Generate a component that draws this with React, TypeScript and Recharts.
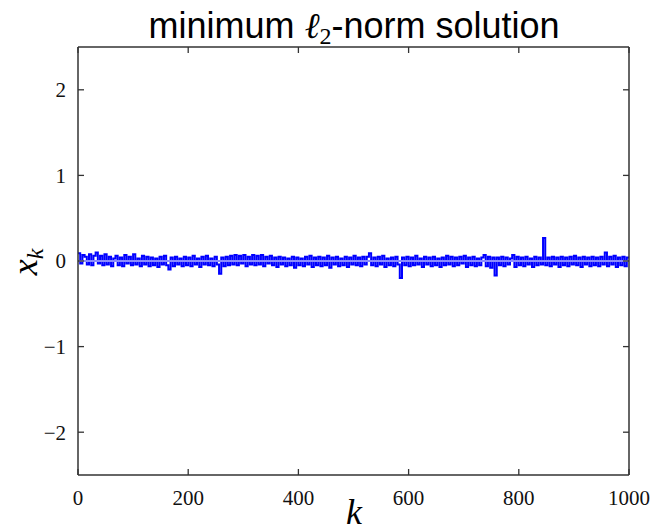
import { LineChart, Line, XAxis, YAxis, ReferenceLine } from "recharts"

// x_k values sampled every 4 indices (k = 0, 4, ..., 996), then k = 1000
const X_VALUES = [
  0.09, -0.03, 0.07, 0.05, -0.04, 0.08, -0.05, 0.06, 0.1, -0.03,
  0.06, -0.05, 0.08, -0.04, 0.05, -0.06, 0.03, 0.06, -0.05, 0.04,
  -0.06, 0.07, -0.03, 0.05, -0.05, 0.08, -0.04, 0.03, -0.06, 0.06,
  -0.04, 0.05, -0.06, 0.04, -0.05, 0.03, -0.07, 0.05, -0.04, 0.06,
  -0.05, -0.1, 0.04, -0.06, 0.05, -0.04, 0.03, -0.06, 0.05, -0.05,
  0.04, -0.06, 0.06, -0.04, 0.03, -0.07, 0.05, -0.04, 0.06, -0.05,
  0.03, -0.06, 0.05, -0.04, -0.15, 0.04, -0.06, 0.05, -0.05, 0.06,
  -0.04, 0.07, -0.05, 0.06, -0.03, 0.07, -0.06, 0.05, -0.04, 0.07,
  -0.05, 0.06, -0.04, 0.07, -0.06, 0.05, -0.03, 0.06, -0.05, 0.04,
  -0.07, 0.05, -0.04, 0.04, -0.06, 0.03, -0.05, 0.05, -0.08, 0.04,
  -0.05, 0.03, -0.06, 0.05, -0.04, 0.06, -0.07, 0.04, -0.05, 0.05,
  -0.06, 0.04, -0.05, 0.06, -0.08, 0.04, -0.04, 0.05, -0.06, 0.03,
  -0.05, 0.05, -0.07, 0.04, -0.04, 0.06, -0.05, 0.04, -0.06, 0.05,
  -0.04, 0.05, 0.09, -0.05, 0.04, -0.06, 0.05, -0.04, 0.06, -0.07,
  0.03, -0.05, 0.04, -0.06, 0.05, -0.04, -0.2, 0.04, -0.05, 0.05,
  -0.06, 0.04, -0.05, 0.06, -0.04, 0.03, -0.07, 0.05, -0.04, 0.04,
  -0.06, 0.05, -0.05, 0.03, -0.07, 0.04, -0.05, 0.06, -0.04, 0.05,
  -0.06, 0.04, -0.05, 0.05, -0.03, 0.06, -0.07, 0.04, -0.05, 0.05,
  -0.06, 0.03, -0.05, 0.04, 0.07, -0.06, 0.05, -0.08, 0.04, -0.17,
  0.04, -0.05, 0.05, -0.06, 0.04, -0.04, 0.03, 0.07, -0.07, 0.05,
  -0.05, 0.04, -0.06, 0.05, -0.04, 0.03, -0.07, 0.05, -0.05, 0.04,
  -0.04, 0.27, -0.05, 0.04, -0.06, 0.05, -0.04, 0.04, -0.07, 0.05,
  -0.05, 0.04, -0.06, 0.05, -0.04, 0.06, -0.05, 0.04, -0.07, 0.05,
  -0.04, 0.04, -0.06, 0.05, -0.05, 0.04, -0.06, 0.05, -0.04, 0.1,
  -0.06, 0.05, -0.04, 0.06, -0.07, 0.04, -0.05, 0.05, -0.06, 0.04,
  0.03,
]
const K_STEP = 4

const X_TICKS = [0, 200, 400, 600, 800, 1000]
const Y_TICKS = [-2, -1, 0, 1, 2]

const data = X_VALUES.map((x, i) => ({ k: i * K_STEP, x }))

const FRAME = "#333"
const TICK_LEN = 6
const fmt = (v: number) => (v < 0 ? "\u2212" + Math.abs(v) : String(v))

// matplotlib-style ticks pointing into the plot
const BottomTick = ({ x, y, payload }: any) => (
  <g>
    <line x1={x} x2={x} y1={y - 15} y2={y - 15 - TICK_LEN} stroke={FRAME} strokeWidth={1.3} />
    <text x={x} y={y} dy="0.71em" textAnchor="middle" fontFamily="Liberation Serif" fontSize={21} fill="#111">
      {fmt(payload.value)}
    </text>
  </g>
)
const LeftTick = ({ x, y, payload }: any) => (
  <g>
    <line x1={x + 12} x2={x + 12 + TICK_LEN} y1={y} y2={y} stroke={FRAME} strokeWidth={1.3} />
    <text x={x} y={y} dy="0.35em" textAnchor="end" fontFamily="Liberation Serif" fontSize={21} fill="#111">
      {fmt(payload.value)}
    </text>
  </g>
)
const TopTick = ({ x, y }: any) => (
  <line x1={x} x2={x} y1={y} y2={y + TICK_LEN} stroke={FRAME} strokeWidth={1.3} />
)
const RightTick = ({ x, y }: any) => (
  <line x1={x} x2={x - TICK_LEN} y1={y} y2={y} stroke={FRAME} strokeWidth={1.3} />
)

export default function App() {
  return (
    <div style={{ position: "absolute", left: 0, top: 0, width: 656, height: 531, background: "#fff" }}>
      <LineChart width={656} height={531} data={data} margin={{ top: 46, right: 26, left: 0, bottom: 0 }}>
        <XAxis
          dataKey="k"
          type="number"
          domain={[0, 1000]}
          ticks={X_TICKS}
          height={56}
          tickSize={0}
          tickMargin={15}
          tickLine={false}
          tick={<BottomTick />}
          stroke={FRAME}
          strokeWidth={1.5}
          allowDataOverflow
        />
        <XAxis
          xAxisId="top"
          orientation="top"
          dataKey="k"
          type="number"
          domain={[0, 1000]}
          ticks={X_TICKS}
          height={1}
          tickSize={0}
          tickMargin={0}
          tickLine={false}
          tick={<TopTick />}
          stroke={FRAME}
          strokeWidth={1.5}
          allowDataOverflow
        />
        <YAxis
          type="number"
          domain={[-2.5, 2.5]}
          ticks={Y_TICKS}
          width={78}
          tickSize={0}
          tickMargin={12}
          tickLine={false}
          tick={<LeftTick />}
          stroke={FRAME}
          strokeWidth={1.5}
          allowDataOverflow
        />
        <YAxis
          yAxisId="right"
          orientation="right"
          type="number"
          domain={[-2.5, 2.5]}
          ticks={Y_TICKS}
          width={1}
          tickSize={0}
          tickMargin={0}
          tickLine={false}
          tick={<RightTick />}
          stroke={FRAME}
          strokeWidth={1.5}
          allowDataOverflow
        />
        <Line
          dataKey="x"
          type="stepAfter"
          stroke="#0000ff"
          strokeWidth={2}
          dot={false}
          isAnimationActive={false}
        />
        <ReferenceLine y={0} stroke="#8a8aff" strokeWidth={2} />
      </LineChart>
      <svg width={656} height={531} style={{ position: "absolute", left: 0, top: 0, pointerEvents: "none" }}>
        <text x={354} y={38} textAnchor="middle" fontFamily="Liberation Sans" fontSize={36} fill="#000">
          minimum{" "}
          <tspan fontFamily="Liberation Serif" fontStyle="italic">ℓ</tspan>
          <tspan fontFamily="Liberation Serif" fontSize={24} dy={6}>2</tspan>
          <tspan dy={-6}>-norm solution</tspan>
        </text>
        <text x={354} y={524} textAnchor="middle" fontFamily="Liberation Serif" fontStyle="italic" fontSize={36} fill="#000">
          k
        </text>
        <text
          x={0}
          y={0}
          transform="translate(37,262) rotate(-90)"
          textAnchor="middle"
          fontFamily="Liberation Serif"
          fontStyle="italic"
          fontSize={36}
          fill="#000"
        >
          x<tspan fontSize={24} dy={6}>k</tspan>
        </text>
      </svg>
    </div>
  )
}
